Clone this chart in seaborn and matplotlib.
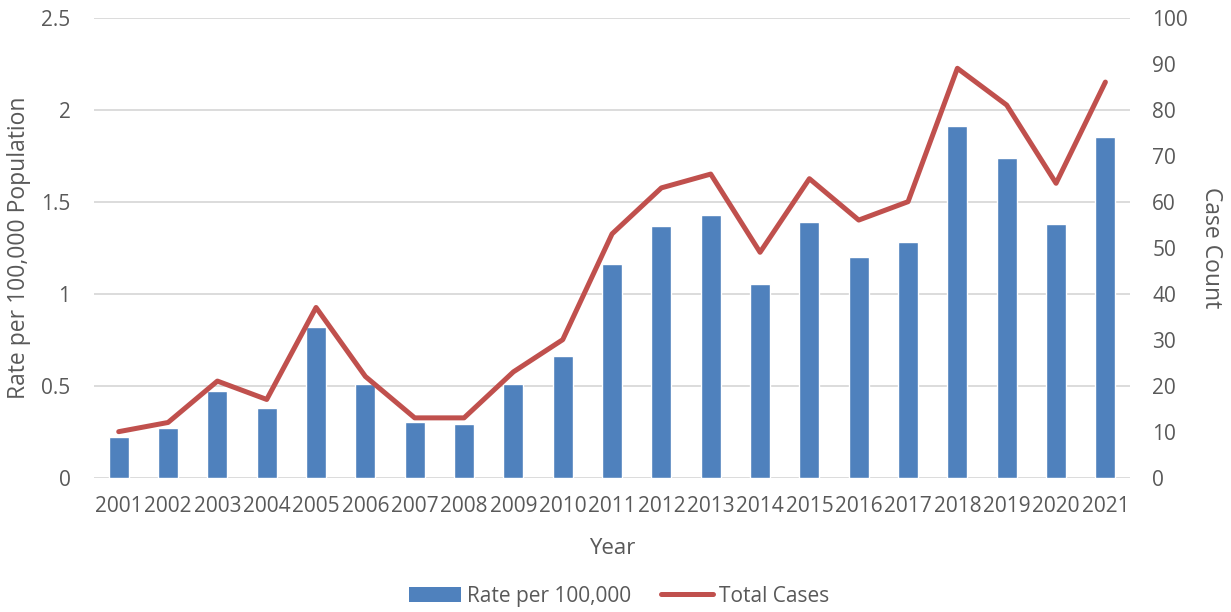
import matplotlib
matplotlib.use("Agg")
import matplotlib.pyplot as plt
import seaborn as sns
import pandas as pd
import numpy as np
from matplotlib.patches import Patch
from matplotlib.lines import Line2D

years = [str(y) for y in range(2001, 2022)]
rate_per_100k = [0.22, 0.27, 0.47, 0.38, 0.82, 0.51, 0.30, 0.29, 0.51, 0.66,
                 1.16, 1.37, 1.43, 1.05, 1.39, 1.20, 1.28, 1.91, 1.74, 1.38, 1.85]
total_cases = [10, 12, 21, 17, 37, 22, 13, 13, 23, 30,
               53, 63, 66, 49, 65, 56, 60, 89, 81, 64, 86]
left_ticks = [0, 0.5, 1, 1.5, 2, 2.5]
left_tick_labels = ["0", "0.5", "1", "1.5", "2", "2.5"]
right_ticks = list(range(0, 101, 10))

BAR_COLOR = "#4F81BD"
LINE_COLOR = "#C0504D"
TEXT_COLOR = "#595959"
GRID_COLOR = "#D9D9D9"

sns.set_theme(style="white")
plt.rcParams["font.family"] = ["Open Sans", "DejaVu Sans"]

df = pd.DataFrame({"Year": years, "Rate": rate_per_100k, "Cases": total_cases})
df["pos"] = np.arange(len(df))

fig = plt.figure(figsize=(12.31, 6.12), dpi=100)
ax = fig.add_axes([0.0764, 0.2195, 0.8416, 0.7516])

sns.barplot(data=df, x="Year", y="Rate", color=BAR_COLOR, width=0.405,
            saturation=1, ax=ax, zorder=2)
ax.set_ylim(0, 2.5)
ax.set_yticks(left_ticks)
ax.set_yticklabels(left_tick_labels)
ax.set_xlim(-0.5, len(years) - 0.5)
ax.yaxis.grid(True, color=GRID_COLOR, linewidth=1.3, zorder=0)
ax.set_axisbelow(True)
for s in ax.spines.values():
    s.set_visible(False)
ax.tick_params(axis="both", length=0, labelsize=15, colors=TEXT_COLOR)
ax.tick_params(axis="y", pad=17)
ax.tick_params(axis="x", pad=13)
ax.set_xlabel("Year", fontsize=16, color=TEXT_COLOR, va="center")
ax.set_ylabel("Rate per 100,000 Population", fontsize=16.5, color=TEXT_COLOR,
              va="center")
ax.xaxis.set_label_coords(0.5, -0.153)
ax.yaxis.set_label_coords(-0.072, 0.5)

ax2 = ax.twinx()
sns.lineplot(data=df, x="pos", y="Cases", color=LINE_COLOR, linewidth=3.6,
             ax=ax2, legend=False)
ax2.set_ylim(0, 100)
ax2.set_yticks(right_ticks)
ax2.set_xlim(-0.5, len(years) - 0.5)
for s in ax2.spines.values():
    s.set_visible(False)
ax2.tick_params(axis="y", length=0, labelsize=15, colors=TEXT_COLOR, pad=16)
ax2.set_ylabel("Case Count", fontsize=16.5, color=TEXT_COLOR, rotation=270,
               va="center")
ax2.yaxis.set_label_coords(1.078, 0.5)
ax2.grid(False)

handles = [Patch(facecolor=BAR_COLOR, edgecolor="none"),
           Line2D([0], [0], color=LINE_COLOR, linewidth=3.6, solid_capstyle="round")]
fig.legend(handles, ["Rate per 100,000", "Total Cases"], loc="center",
           bbox_to_anchor=(0.503, 0.026), ncol=2, frameon=False, fontsize=15,
           labelcolor=TEXT_COLOR, handlelength=2.5, handletextpad=0.3,
           columnspacing=1.4)

fig.savefig("out.png", dpi=100, facecolor="white")
